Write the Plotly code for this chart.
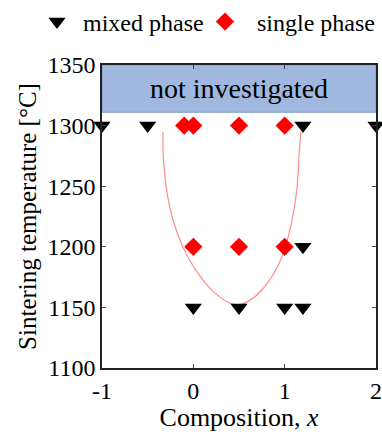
import plotly.graph_objects as go

# mixed phase (black down-triangles)
mixed_x = [-1, -0.5, 1.2, 2, 1.2, 0, 0.5, 1, 1.2]
mixed_t = [1300, 1300, 1300, 1300, 1200, 1150, 1150, 1150, 1150]

# single phase (red diamonds)
single_x = [-0.1, 0, 0.5, 1, 0, 0.5, 1]
single_t = [1300, 1300, 1300, 1300, 1200, 1200, 1200]

# boundary curve
curve_x = [-0.333, -0.327, -0.290, -0.217, -0.108, 0.038, 0.220, 0.402, 0.493,
           0.621, 0.766, 0.913, 1.003, 1.077, 1.131, 1.156, 1.175]
curve_t = [1295, 1273, 1245.5, 1220.7, 1198.8, 1179.5, 1163, 1153.4, 1152,
           1156, 1165.8, 1182.3, 1198.8, 1220.7, 1245.5, 1273, 1294.5]

# "not investigated" region
region_x = [-1, 2]
region_t = [1311, 1350]
region_label = "not investigated"

x_ticks = [-1, 0, 1, 2]
x_ticktext = ["-1", "0", "1", "2"]
y_ticks = [1100, 1150, 1200, 1250, 1300, 1350]

FONT = "Liberation Serif, Times New Roman, serif"

fig = go.Figure()
fig.add_trace(go.Scatter(x=curve_x, y=curve_t, mode="lines",
                         line=dict(color="#FF8C8C", width=1.2, shape="spline"),
                         showlegend=False, hoverinfo="skip"))
fig.add_trace(go.Scatter(x=mixed_x, y=mixed_t, mode="markers", name=" mixed phase",
                         marker=dict(symbol="triangle-down", size=15, color="black"),
                         cliponaxis=False, legend="legend"))
fig.add_trace(go.Scatter(x=single_x, y=single_t, mode="markers", name="  single phase",
                         marker=dict(symbol="diamond", size=14, color="#FF0000"),
                         cliponaxis=False, legend="legend2"))

fig.add_shape(type="rect", x0=region_x[0], x1=region_x[1], y0=region_t[0], y1=region_t[1],
              fillcolor="#A0B8E0", line=dict(color="#7F9CC8", width=1), layer="below")
fig.add_annotation(x=(region_x[0] + region_x[1]) / 2, y=(region_t[0] + region_t[1]) / 2,
                   text=region_label, showarrow=False,
                   font=dict(family=FONT, size=28, color="black"))

axis_common = dict(showline=True, linecolor="#222222", linewidth=1.5, mirror="ticks",
                   ticks="inside", ticklen=4, tickcolor="#444444", showgrid=False,
                   zeroline=False, automargin=False,
                   tickfont=dict(family=FONT, size=24, color="black"))

fig.update_xaxes(range=[-1, 2], tickvals=x_ticks, ticktext=x_ticktext,
                 title=dict(text="Composition, <i>x</i>", font=dict(family=FONT, size=26, color="black"),
                            standoff=2),
                 **axis_common)
fig.update_yaxes(range=[1100, 1350], tickvals=y_ticks,
                 title=dict(text="Sintering temperature [°C]",
                            font=dict(family=FONT, size=25, color="black"), standoff=4),
                 **axis_common)

legend_common = dict(orientation="h", xref="container", yref="container",
                     xanchor="left", y=1 - 22 / 432, yanchor="middle",
                     font=dict(family=FONT, size=24, color="black"),
                     bgcolor="rgba(0,0,0,0)", itemwidth=30)

fig.update_layout(
    width=382, height=432,
    margin=dict(l=102, r=6, t=65, b=64, autoexpand=False),
    paper_bgcolor="white", plot_bgcolor="white",
    font=dict(family=FONT, color="black"),
    legend=dict(x=37 / 382, **legend_common),
    legend2=dict(x=205 / 382, **legend_common),
)

fig.write_html("out.html", config={"displayModeBar": False},
               post_script="document.body.style.margin='0';document.body.style.padding='0';")
